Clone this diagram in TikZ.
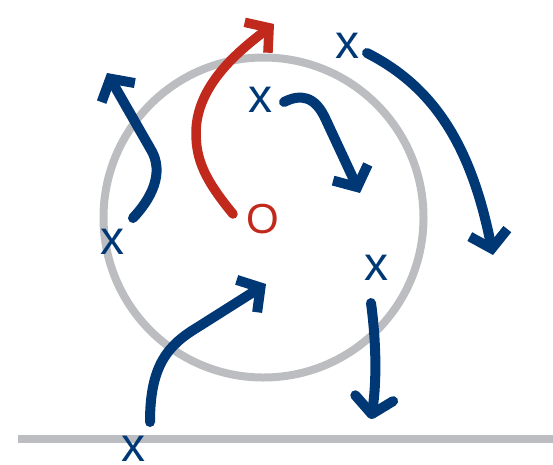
\documentclass[tikz,border=0pt]{standalone}
\usepackage{fontspec}
\setmainfont{Liberation Sans}
\usetikzlibrary{arrows.meta}
\definecolor{navy}{HTML}{003876}
\definecolor{brick}{HTML}{C0291B}
\definecolor{ring}{HTML}{BCBDC0}

\begin{document}
\begin{tikzpicture}[x=1pt, y=-1pt, >={Straight Barb[angle=100:25pt]},
    track/.style={->, line width=10pt, navy, line cap=round},
    charge/.style={navy, inner sep=0pt, font=\fontsize{48}{48}\selectfont},
    origin/.style={brick, inner sep=0pt, font=\fontsize{42}{42}\selectfont}]
    \useasboundingbox (0,0) rectangle (553,464);

    % circle and ground line
    \draw[ring, line width=8pt] (263.5,217.5) circle[radius=160];
    \draw[ring, line width=8pt] (18,439) -- (553,439);

    % labels
    \node[origin] (o) at (263,219) {O};
    \node[charge] (x1) at (347,46) {x};
    \node[charge] (x2) at (260,100) {x};
    \node[charge] (x3) at (112,242) {x};
    \node[charge] (x4) at (376,268) {x};
    \node[charge] (x5) at (133,449) {x};

    % red path out of O
    \draw[->, line width=9.5pt, brick, line cap=round]
        (233,214) .. controls (205,180) and (196,160) .. (196,133)
        .. controls (196,85) and (240,50) .. (274,24);

    % blue tracks
    \draw[track] (367,53) .. controls (430,85) and (470,140) .. (493,255);
    \draw[track] (284,102) .. controls (300,94) and (315,95) .. (326,120) -- (360,193);
    \draw[track] (133,218) .. controls (150,200) and (166,173) .. (150,148) -- (107,73);
    \draw[track, -{Straight Barb[angle=100:25pt, round]}]
        (371,303) .. controls (376,340) and (377,380) .. (371,419);
    \draw[track] (150,422) .. controls (150,365) and (168,345) .. (198,327) -- (266,284);
\end{tikzpicture}
\end{document}
